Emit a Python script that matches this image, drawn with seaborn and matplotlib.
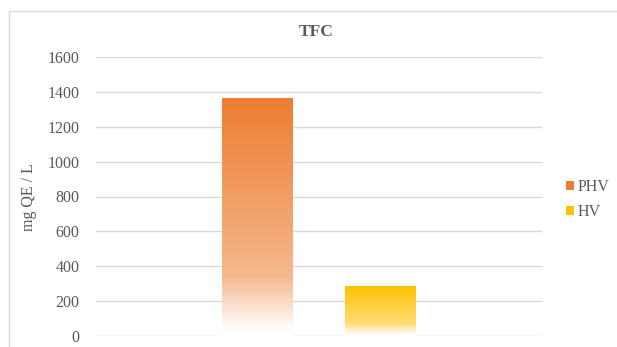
import numpy as np
import pandas as pd
import matplotlib
matplotlib.use("Agg")
import matplotlib.pyplot as plt
from matplotlib.patches import Patch
from matplotlib.lines import Line2D
from matplotlib.colors import to_rgb
import seaborn as sns

series = ["PHV", "HV"]
values = [1365, 288]
colors = ["#ED7D31", "#FFC000"]
yticks = [0, 200, 400, 600, 800, 1000, 1200, 1400, 1600]
title = "TFC"
ylabel = "mg QE / L"

sns.set_theme(style="white")
plt.rcParams["font.family"] = ["Liberation Serif", "DejaVu Serif"]
TXT = "#595959"

W, H = 617, 347
fig = plt.figure(figsize=(W / 100, H / 100), dpi=100)
ax = fig.add_axes([96 / W, 1 - 336 / H, (542 - 96) / W, (336 - 57) / H])

df = pd.DataFrame({"series": series, "value": values})
sns.barplot(data=df, x="series", y="value", hue="series", palette=colors,
            width=0.58, ax=ax, legend=False, saturation=1)

ax.set_xlim(-1.324, 2.324)
ax.set_ylim(0, 1600)
ax.set_yticks(yticks)
ax.set_yticklabels([str(t) for t in yticks], color=TXT, fontsize=11.5)
ax.tick_params(axis="y", length=0, pad=12)
ax.set_xticks([])
ax.set_xlabel("")
ax.set_ylabel("")
for s in ax.spines.values():
    s.set_visible(False)
ax.yaxis.grid(True, color="#D9D9D9", lw=1.0)
ax.set_axisbelow(True)

# gradient fills (colour blended towards white at the bottom)
N = 256
pos = np.linspace(0, 1, N)  # 0 bottom -> 1 top
amt = np.interp(pos, [0, 0.04, 0.25, 1.0], [0.0, 0.03, 0.55, 1.0])
for patch, c in zip(ax.patches, colors):
    x0, y0 = patch.get_x(), patch.get_y()
    w, h = patch.get_width(), patch.get_height()
    rgb = np.array(to_rgb(c))
    img = np.ones((N, 1, 4))
    img[:, 0, :3] = amt[:, None] * rgb[None, :] + (1 - amt[:, None])
    patch.set_facecolor("none")
    patch.set_edgecolor((1, 1, 1, 0.0))
    im = ax.imshow(img, extent=(x0, x0 + w, y0, y0 + h), origin="lower",
                   aspect="auto", zorder=patch.get_zorder(), interpolation="bilinear")
    im.set_clip_path(patch)
ax.set_xlim(-1.324, 2.324)
ax.set_ylim(0, 1600)

fig.text(316 / W, 1 - 32 / H, title, ha="center", va="center",
         fontsize=12.5, fontweight="bold", color=TXT)
fig.text(29 / W, 1 - 197 / H, ylabel, ha="center", va="center",
         rotation=90, fontsize=11.5, color=TXT)

handles = [Patch(facecolor=c, edgecolor="none") for c in colors]
leg = fig.legend(handles, series, loc="upper left",
                 bbox_to_anchor=(560 / W, 1 - 173 / H), frameon=False,
                 handlelength=0.5, handleheight=0.5, handletextpad=0.2,
                 labelspacing=0.55, fontsize=11.5, borderaxespad=0)
for t in leg.get_texts():
    t.set_color(TXT)

# outer chart border (top and left visible, cropped on the other sides)
fig.add_artist(Line2D([8.5 / W, 1], [1 - 10.5 / H, 1 - 10.5 / H],
                      transform=fig.transFigure, color="#D9D9D9", lw=1))
fig.add_artist(Line2D([8.5 / W, 8.5 / W], [0, 1 - 10.5 / H],
                      transform=fig.transFigure, color="#D9D9D9", lw=1))

fig.savefig("out.png", dpi=100)
